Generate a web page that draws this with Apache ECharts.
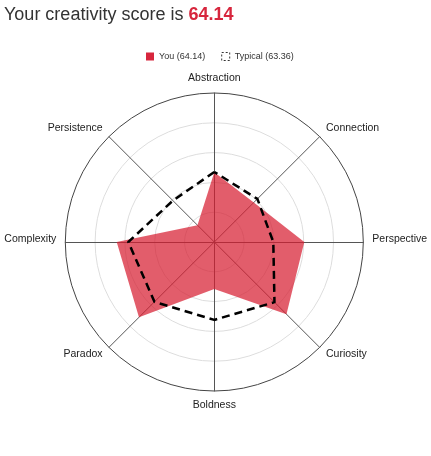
<!DOCTYPE html>
<html>
<head>
<meta charset="utf-8">
<script src="https://cdn.jsdelivr.net/npm/echarts@6/dist/echarts.min.js"></script>
<style>
html,body{margin:0;padding:0;background:#fff;}
#chart{width:431px;height:456px;}
</style>
</head>
<body>
<div id="chart"></div>
<script>
// Indicators listed counterclockwise from the top (ECharts radar order)
const indicatorNames = ['Abstraction','Persistence','Complexity','Paradox','Boldness','Curiosity','Perspective','Connection'];
const youValues     = [46.8, 16.0, 65.5, 71.5, 31.5, 68.5, 60.4, 37.5];
const typicalValues = [47.0, 39.3, 57.7, 56.8, 52.3, 57.1, 39.6, 40.9];
const youScore = '64.14';
const typicalScore = '63.36';
const maxValue = 100;

const chart = echarts.init(document.getElementById('chart'));
const FONT = '"Liberation Sans", Arial, sans-serif';
const raised = { Complexity: 1, Perspective: 1, Connection: 1, Persistence: 1 };
chart.setOption({
  animation: false,
  textStyle: { fontFamily: FONT },
  title: {
    text: '{a|Your creativity score is }{b|' + youScore + '}',
    left: -1, top: 1,
    textStyle: {
      rich: {
        a: { fontFamily: FONT, fontSize: 18, color: '#333', fontWeight: 'normal' },
        b: { fontFamily: FONT, fontSize: 18, color: '#d7263d', fontWeight: 'bold' }
      }
    }
  },
  legend: {
    top: 47, left: 141,
    itemWidth: 8, itemHeight: 8, itemGap: 16,
    textStyle: { fontSize: 9, color: '#333', fontFamily: FONT },
    data: [
      { name: 'You (' + youScore + ')', icon: 'rect', itemStyle: { color: '#d7263d' } },
      { name: 'Typical (' + typicalScore + ')', icon: 'rect',
        itemStyle: { color: 'transparent', borderColor: '#333', borderWidth: 1, borderType: [2, 2] } }
    ]
  },
  radar: {
    center: [214.3, 242],
    radius: 149,
    shape: 'circle',
    startAngle: 90,
    splitNumber: 5,
    indicator: indicatorNames.map(n => ({ name: n, max: maxValue, min: 0 })),
    axisName: {
      color: '#222', fontSize: 10.5, fontFamily: FONT,
      formatter: (n) => raised[n] ? '{up|' + n + '}' : n,
      rich: { up: { color: '#222', fontSize: 10.5, fontFamily: FONT, padding: [0, 0, 5, 0] } }
    },
    nameGap: 9,
    axisLine: { lineStyle: { color: '#555', width: 1 } },
    splitLine: { lineStyle: { color: ['#ddd','#ddd','#ddd','#ddd','#ddd','#444'], width: 1 } },
    splitArea: { show: false }
  },
  series: [
    {
      type: 'radar',
      name: 'You (' + youScore + ')',
      symbol: 'none',
      z: 1,
      itemStyle: { color: '#d7263d' },
      lineStyle: { width: 0 },
      areaStyle: { color: 'rgb(215,30,50)', opacity: 0.72 },
      data: [{ value: youValues, name: 'You (' + youScore + ')' }]
    },
    {
      type: 'radar',
      name: 'Typical (' + typicalScore + ')',
      symbol: 'none',
      z: 3,
      itemStyle: { color: '#000' },
      lineStyle: { color: '#000', width: 2.5, type: [8, 5] },
      data: [{ value: typicalValues, name: 'Typical (' + typicalScore + ')' }]
    }
  ]
});
</script>
</body>
</html>
